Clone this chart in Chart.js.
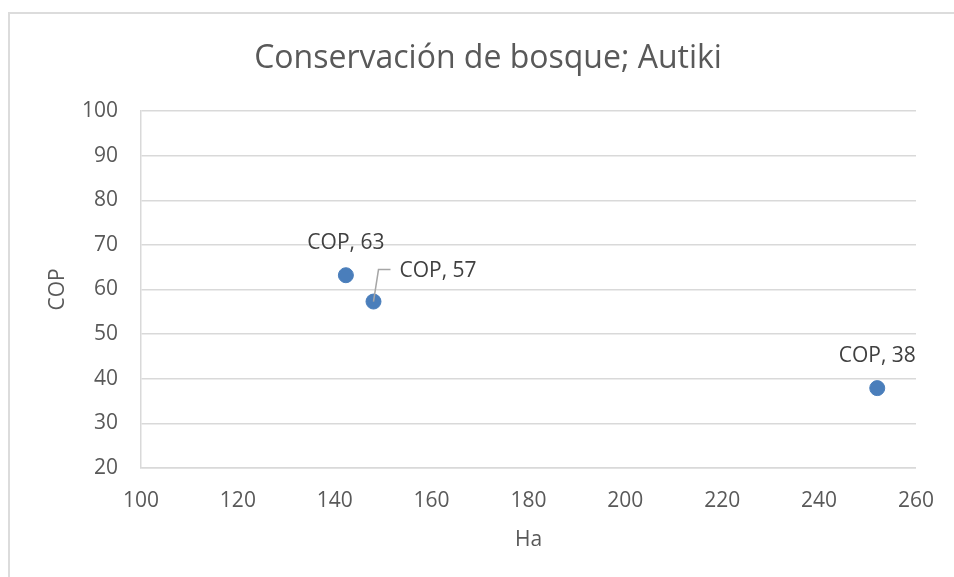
<!DOCTYPE html>
<html>
<head>
<meta charset="utf-8">
<script src="https://cdn.jsdelivr.net/npm/chart.js@4"></script>
<style>
  body { margin: 0; background: #fff; overflow: hidden; }
  .frame { position: absolute; left: 8px; top: 12px; width: 980px; height: 620px; border: 2px solid #dcdcdc; box-sizing: border-box; }
  canvas { position: absolute; left: 0; top: 0; }
</style>
</head>
<body>
<div class="frame"></div>
<canvas class="js-chart" width="954" height="577"></canvas>
<script>
// データ
const seriesName = 'COP';
const haValues = [142.3, 148.0, 252.0];
const copValues = [63.2, 57.3, 37.9];
const copLabels = ['63', '57', '38'];

// ラベル位置（点からのずれ）
const labelPlacement = [
  { dx: 0, dy: -32, align: 'center', leader: false },
  { dx: 26, dy: -31, align: 'left', leader: true },
  { dx: 0, dy: -32, align: 'center', leader: false }
];

const textColor = '#595959';
const gridColor = '#d9d9d9';
const fontFamily = '"Open Sans", sans-serif';

// データラベル描画
const pointLabels = {
  id: 'pointLabels',
  afterDatasetsDraw(chart) {
    const ctx = chart.ctx;
    const meta = chart.getDatasetMeta(0);
    ctx.save();
    ctx.font = '21px ' + fontFamily;
    ctx.fillStyle = '#404040';
    ctx.textBaseline = 'middle';
    meta.data.forEach((pt, i) => {
      const p = labelPlacement[i];
      if (p.leader) {
        ctx.strokeStyle = '#a6a6a6';
        ctx.lineWidth = 1.5;
        ctx.beginPath();
        ctx.moveTo(pt.x, pt.y);
        ctx.lineTo(pt.x + 5, pt.y + p.dy - 1);
        ctx.lineTo(pt.x + 17, pt.y + p.dy - 1);
        ctx.stroke();
      }
      ctx.textAlign = p.align;
      ctx.fillText(`${seriesName}, ${copLabels[i]}`, pt.x + p.dx, pt.y + p.dy);
    });
    ctx.restore();
  }
};

window.addEventListener('DOMContentLoaded', () => {
  const $chart = document.querySelector('.js-chart');
  new Chart($chart, {
    type: 'scatter',
    data: {
      datasets: [{
        label: seriesName,
        data: haValues.map((x, i) => ({ x: x, y: copValues[i] })),
        backgroundColor: '#4a7ebb',
        borderColor: '#4a7ebb',
        pointRadius: 7.5,
        pointHoverRadius: 7.5
      }]
    },
    options: {
      responsive: false,
      devicePixelRatio: 1,
      animation: false,
      layout: {
        padding: { left: 55, right: 33, top: 0, bottom: 0 }
      },
      plugins: {
        legend: { display: false },
        tooltip: { enabled: false },
        title: {
          display: true,
          text: 'Conservación de bosque; Autiki',
          color: textColor,
          font: { family: fontFamily, size: 32, weight: '400' },
          padding: { top: 40, bottom: 32.6 }
        }
      },
      scales: {
        x: {
          type: 'linear',
          min: 100,
          max: 260,
          afterFit: (scale) => { scale.height = 109; },
          ticks: {
            stepSize: 20,
            padding: 20,
            color: textColor,
            font: { family: fontFamily, size: 21 }
          },
          grid: { display: false, drawTicks: false },
          border: { display: true, color: gridColor, width: 1.5 },
          title: {
            display: true,
            text: 'Ha',
            color: textColor,
            font: { family: fontFamily, size: 21 },
            padding: { top: 0, bottom: 24 }
          }
        },
        y: {
          min: 20,
          max: 100,
          afterFit: (scale) => { scale.width = 141 - 55; },
          ticks: {
            stepSize: 10,
            padding: 23,
            color: textColor,
            font: { family: fontFamily, size: 21 }
          },
          grid: { color: gridColor, lineWidth: 1.5, drawTicks: false },
          border: { display: true, color: gridColor, width: 1.5 },
          title: {
            display: true,
            text: 'COP',
            color: textColor,
            font: { family: fontFamily, size: 21 },
            padding: { top: -10, bottom: 0 }
          }
        }
      }
    },
    plugins: [pointLabels]
  });
});
</script>
</body>
</html>
